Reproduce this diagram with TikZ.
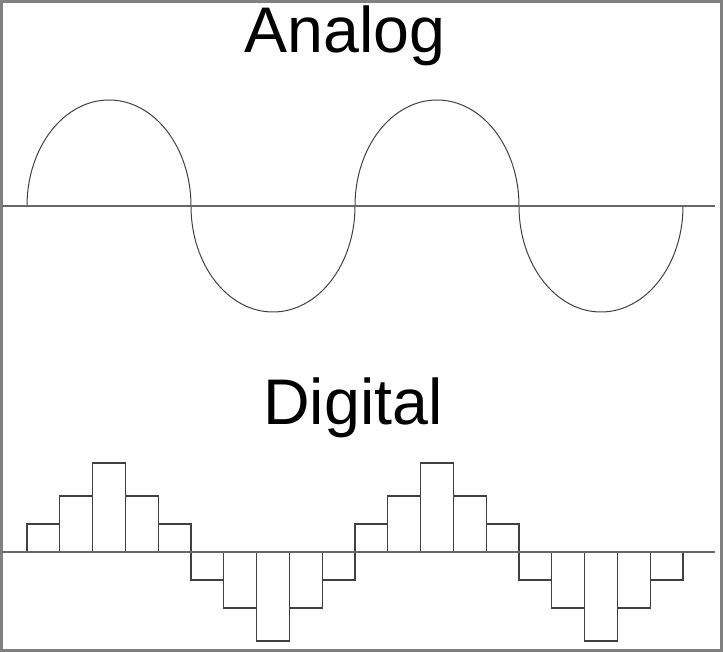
\documentclass[tikz,border=0pt]{standalone}
\usepackage{fontspec}
\setmainfont{Liberation Sans}
\usetikzlibrary{positioning}

\tikzset{
    title/.style={anchor=base, inner sep=0pt, font=\fontsize{64.5}{72}\selectfont},
    wave/.style={draw=black!75, line width=1pt},
    axis/.style={draw=black!60, line width=1.6pt},
    bar/.style={draw=black!75, line width=1.1pt}
}

\begin{document}
\begin{tikzpicture}[x=1pt, y=1pt]
            \useasboundingbox (0,0) rectangle (723,652);
            \draw[black!50, line width=3pt] (1.5,1.5) rectangle (721.5,650.5);

            \node[title] (analog) at (345,599) {Analog};
            \node[title] (digital) at (353,227) {Digital};

            % analog wave
            \draw[wave] (27,446) arc[start angle=180, end angle=0, x radius=82, y radius=106]
                arc[start angle=180, end angle=360, x radius=82, y radius=106]
                arc[start angle=180, end angle=0, x radius=82, y radius=106]
                arc[start angle=180, end angle=360, x radius=82, y radius=106];
            \coordinate (a0) at (2,446);
            \coordinate (a1) at (715,446);
            \draw[axis] (a0) -- (a1);

            % digital wave
            \foreach \h [count=\i from 0] in {28,56,89,56,28,-28,-56,-89,-56,-28,28,56,89,56,28,-28,-56,-89,-56,-28}
                \draw[bar] ({27+\i*32.8},100) rectangle ({27+(\i+1)*32.8},{100+\h});
            \coordinate (d0) at (2,100);
            \coordinate (d1) at (715,100);
            \draw[axis] (d0) -- (d1);
        \end{tikzpicture}
\end{document}
